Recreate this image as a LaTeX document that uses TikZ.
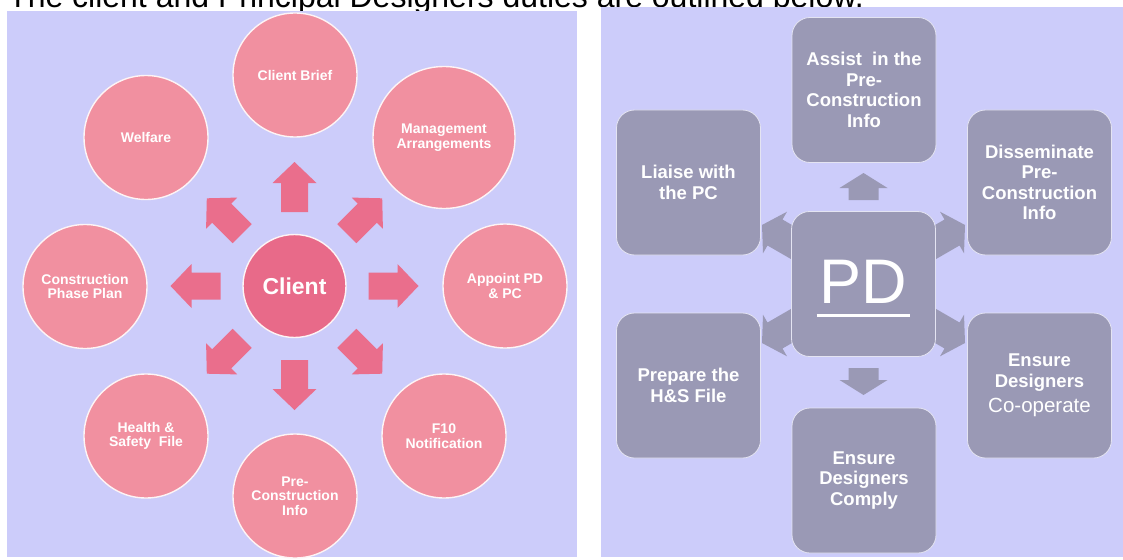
\documentclass[tikz,border=0pt]{standalone}
\usepackage{fontspec}
\setmainfont{Liberation Sans}
\definecolor{lav}{RGB}{204,204,250}
\definecolor{pinkc}{RGB}{241,144,160}
\definecolor{pinkd}{RGB}{232,106,137}
\definecolor{pinka}{RGB}{234,110,140}
\definecolor{greyb}{RGB}{154,153,181}
\definecolor{greyline}{RGB}{228,228,242}
\begin{document}
\begin{tikzpicture}[x=1pt,y=-1pt,
  circ/.style={circle, minimum size=124pt, inner sep=0pt, fill=pinkc, draw=white!90!pinkc,
    line width=1.4pt, text=white, align=center, font=\fontsize{14}{14.5}\selectfont\bfseries},
  gbox/.style={rectangle, rounded corners=18pt, minimum width=144pt, minimum height=145pt,
    inner sep=0pt, fill=greyb, draw=greyline, line width=0.8pt, text=white, align=center,
    font=\fontsize{18.5}{20.5}\selectfont\bfseries},
  pinkarrow/.pic={\fill[pinka] (0,0) -- (-21,22) -- (-21,13.5) -- (-50,13.5) -- (-50,-13.5)
    -- (-21,-13.5) -- (-21,-22) -- cycle;},
  greyarrow/.pic={\fill[greyb] (0,0) -- (-15,24) -- (-15,15) -- (-27,15) -- (-27,-15)
    -- (-15,-15) -- (-15,-24) -- cycle;},
  greyarrowlong/.pic={\fill[greyb] (0,0) -- (-15,24) -- (-15,15) -- (-45,15) -- (-45,-15)
    -- (-15,-15) -- (-15,-24) -- cycle;}
]
\useasboundingbox (0,0) rectangle (1123,559);
\clip (0,0) rectangle (1123,559);
\fill[white] (0,0) rectangle (1123,559);
% title (cut by the top edge)
\node[anchor=base west, inner sep=0pt, font=\fontsize{32}{38}\selectfont] (title) at (8,7.3)
  {The client and Principal Designers duties are outlined below.};
% panels
\fill[lav] (7,11) rectangle (577,557);
\fill[lav] (601,7) rectangle (1123,557);

% ---------- left diagram ----------
\node[circ] (brief) at (295,75) {Client Brief};
\node[circ, minimum size=142pt] (mgmt) at (444,137.5) {Management\\Arrangements};
\node[circ] (appoint) at (505,286) {Appoint PD\\\& PC};
\node[circ] (f10) at (444,436) {F10\\Notification};
\node[circ] (precon) at (295,496) {Pre-\\Construction\\Info};
\node[circ] (hs) at (146,436) {Health \&\\Safety\ \ File};
\node[circ] (cpp) at (85,286.5) {Construction\\Phase Plan};
\node[circ] (welfare) at (146,137.5) {Welfare};
\node[circ, minimum size=103pt, fill=pinkd, font=\fontsize{23}{26}\selectfont\bfseries]
  (client) at (294.5,286) {Client};

\pic[rotate=90] at (294.5,162) {pinkarrow};
\pic[rotate=-90] at (294.5,410) {pinkarrow};
\pic[rotate=0] at (418.5,286) {pinkarrow};
\pic[rotate=180] at (170.5,286) {pinkarrow};
\pic[rotate=135] at (206.8,198.3) {pinkarrow};
\pic[rotate=45] at (382.2,198.3) {pinkarrow};
\pic[rotate=-45] at (382.2,373.7) {pinkarrow};
\pic[rotate=-135] at (206.8,373.7) {pinkarrow};

% ---------- right diagram ----------
\pic[rotate=150] at (762,225) {greyarrowlong};
\pic[rotate=30] at (965,225) {greyarrowlong};
\pic[rotate=210] at (762,343) {greyarrowlong};
\pic[rotate=-30] at (965,343) {greyarrowlong};
\pic[rotate=90] at (863.5,173) {greyarrow};
\pic[rotate=-90] at (863.5,395) {greyarrow};

\node[gbox] (assist) at (864,90) {Assist\ \ in the\\Pre-\\Construction\\Info};
\node[gbox] (liaise) at (688.5,182.5) {Liaise with\\the PC};
\node[gbox] (dissem) at (1039.5,182.5) {Disseminate\\Pre-\\Construction\\Info};
\node[gbox] (pd) at (863.5,284) {};
\node[gbox] (prep) at (688.5,385.5) {Prepare the\\H\&S File};
\node[gbox] (coop) at (1039.5,385.5)
  {Ensure\\Designers\\[5pt]{\mdseries\fontsize{20.5}{22}\selectfont Co-operate}};
\node[gbox] (comply) at (864,480.5) {Ensure\\Designers\\Comply};

\node[anchor=base, inner sep=0pt, text=white, font=\fontsize{63}{63}\selectfont]
  (pdtext) at (863.5,303.5) {PD};
\draw[white, line width=3pt] ([xshift=-3pt,yshift=-11.5pt]pdtext.base west)
  -- ([xshift=3pt,yshift=-11.5pt]pdtext.base east);
\end{tikzpicture}
\end{document}
